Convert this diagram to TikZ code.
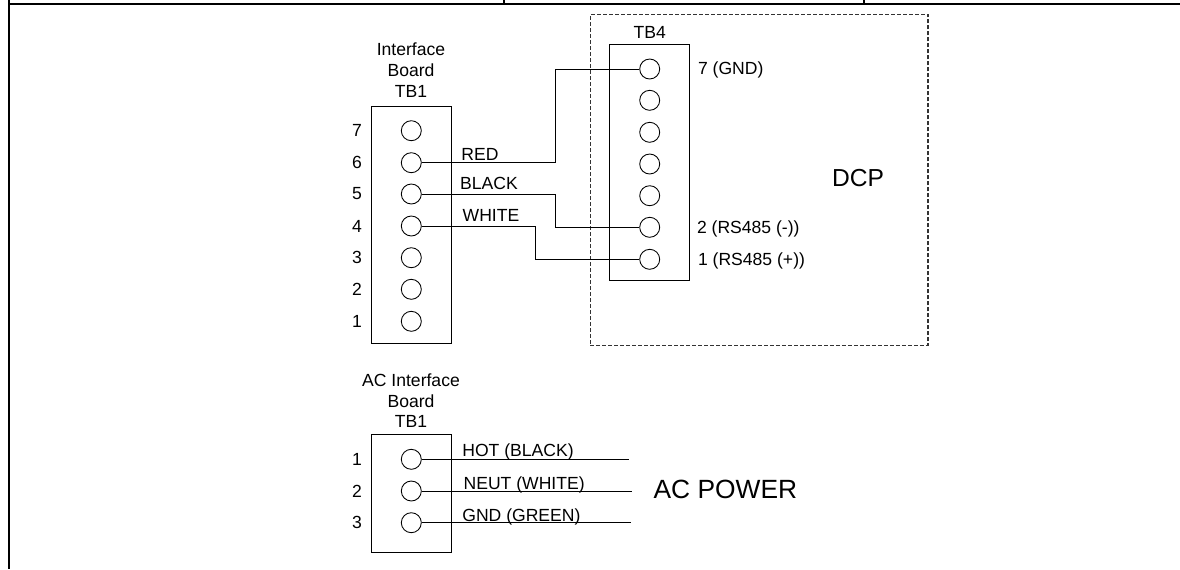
\documentclass[tikz,border=0pt]{standalone}
\usepackage{fontspec}
\setmainfont{Liberation Sans}

\begin{document}
\begin{tikzpicture}[x=0.02cm, y=-0.02cm,
		frameline/.style={line width=0.04cm},
		tick/.style={line width=0.03cm},
		box/.style={draw, line width=0.6pt},
		dcpbox/.style={draw, dash pattern=on 0.08cm off 0.04cm, line width=0.6pt, gray!40!black},
		term/.style={draw, circle, minimum size=0.4cm, inner sep=0pt, line width=0.5pt},
		wire/.style={line width=0.5pt},
		lbl/.style={font=\fontsize{10}{12}\selectfont, inner sep=0pt},
		biglbl/.style={font=\fontsize{15}{17}\selectfont, inner sep=0pt}]
			\useasboundingbox (0, 0) rectangle (1180, 569);

			\coordinate (framea) at (9, 569);
			\coordinate (frameb) at (9, 4);
			\coordinate (framec) at (1180, 4);
			\draw[frameline] (9, 0) -- (framea);
			\draw[frameline] (frameb) -- (framec);
			\draw[tick] (504, 0) -- (504, 4);
			\draw[tick] (864, 0) -- (864, 4);

			\node[box, minimum width=1.59cm, minimum height=4.74cm] (ifbox) at (411.3, 225) {};
			\node[box, minimum width=1.59cm, minimum height=4.73cm] (tbbox) at (649.5, 162.7) {};
			\node[box, minimum width=1.59cm, minimum height=2.36cm] (acbox) at (411.3, 493.7) {};
			\node[dcpbox, minimum width=6.76cm, minimum height=6.61cm] (dcp) at (759, 180) {};

			\node[lbl] (ifa) at (411, 49) {Interface};
			\node[lbl] (ifb) at (411, 70) {Board};
			\node[lbl] (ifc) at (411, 91) {TB1};
			\node[lbl] (tb) at (649.7, 32) {TB4};
			\node[lbl] (aca) at (411, 380) {AC Interface};
			\node[lbl] (acb) at (411, 401) {Board};
			\node[lbl] (acc) at (411, 421) {TB1};

			\node[term] (i7) at (411.3, 130.7) {};
			\node[term] (i6) at (411.3, 162.7) {};
			\node[term] (i5) at (411.3, 194) {};
			\node[term] (i4) at (411.3, 226) {};
			\node[term] (i3) at (411.3, 257.7) {};
			\node[term] (i2) at (411.3, 289.3) {};
			\node[term] (i1) at (411.3, 321.3) {};

			\node[lbl] (n7) at (357, 130) {7};
			\node[lbl] (n6) at (357, 162) {6};
			\node[lbl] (n5) at (357, 194) {5};
			\node[lbl] (n4) at (357, 226) {4};
			\node[lbl] (n3) at (357, 257) {3};
			\node[lbl] (n2) at (357, 289) {2};
			\node[lbl] (n1) at (357, 321) {1};

			\node[term] (t7) at (649.7, 69) {};
			\node[term] (t6) at (649.7, 100.3) {};
			\node[term] (t5) at (649.7, 132.3) {};
			\node[term] (t4) at (649.7, 164) {};
			\node[term] (t3) at (649.7, 195.7) {};
			\node[term] (t2) at (649.7, 227.3) {};
			\node[term] (t1) at (649.7, 259.3) {};

			\node[lbl, anchor=base west] (gnd) at (697.7, 74) {7 (GND)};
			\node[lbl, anchor=base west] (minus) at (696.7, 233.3) {2 (RS485 (-))};
			\node[lbl, anchor=base west] (plus) at (697.7, 265.3) {1 (RS485 (+))};
			\node[font=\fontsize{14}{17}\selectfont, inner sep=0pt] (dcpname) at (858, 178) {DCP};

			\coordinate (redbend) at (555.3, 115);
			\coordinate (blackbend) at (555.3, 210);
			\coordinate (whitebend) at (535.3, 242);
			\draw[wire] (i6) -| (redbend) |- (t7);
			\draw[wire] (i5) -| (blackbend) |- (t2);
			\draw[wire] (i4) -| (whitebend) |- (t1);

			\node[lbl] (red) at (480, 154) {RED};
			\node[lbl] (black) at (489, 183.7) {BLACK};
			\node[lbl] (white) at (491, 215.7) {WHITE};

			\node[term] (a1) at (411.3, 459.3) {};
			\node[term] (a2) at (411.3, 491) {};
			\node[term] (a3) at (411.3, 522.7) {};

			\node[lbl] (m1) at (357, 459) {1};
			\node[lbl] (m2) at (357, 491) {2};
			\node[lbl] (m3) at (357, 522) {3};

			\coordinate (hot) at (629.3, 459.3);
			\coordinate (neut) at (632.3, 491);
			\coordinate (green) at (631, 522.7);
			\draw[wire] (a1) -- (hot);
			\draw[wire] (a2) -- (neut);
			\draw[wire] (a3) -- (green);

			\node[lbl, anchor=base west] (hotl) at (462, 456) {HOT (BLACK)};
			\node[lbl, anchor=base west] (neutl) at (463.3, 489.3) {NEUT (WHITE)};
			\node[lbl, anchor=base west] (gndl) at (462, 521) {GND (GREEN)};
			\node[biglbl, anchor=west] (acpower) at (653.3, 489.3) {AC POWER};
		\end{tikzpicture}
\end{document}
